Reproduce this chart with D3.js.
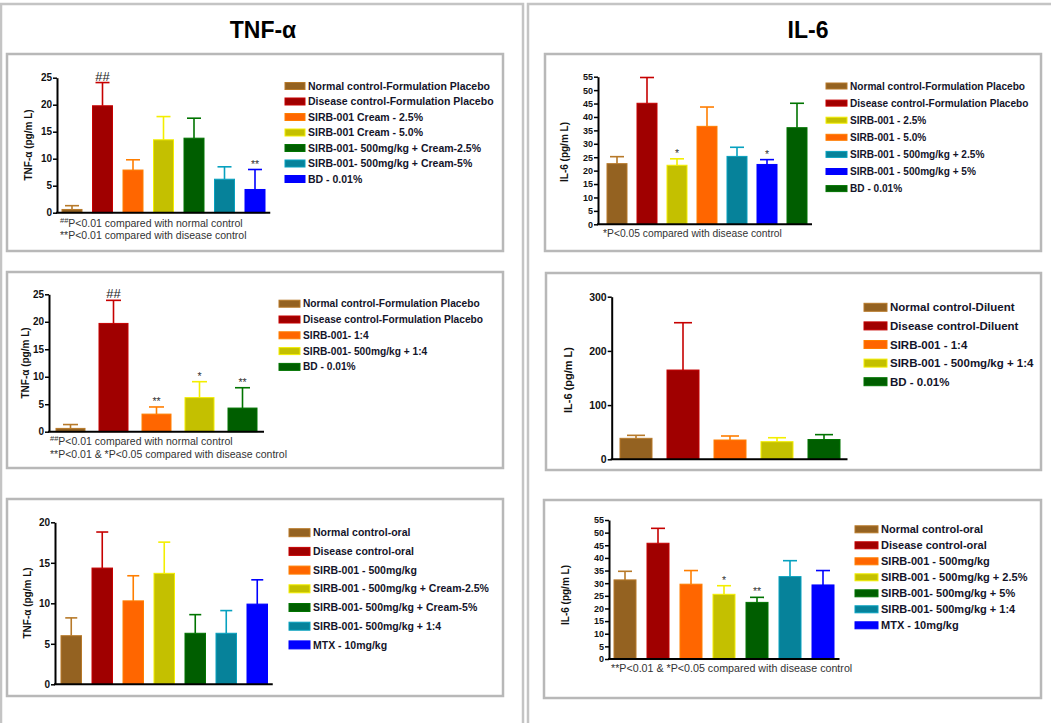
<!DOCTYPE html>
<html lang="en">
<head>
<meta charset="utf-8">
<title>TNF-α / IL-6</title>
<script src="https://cdn.jsdelivr.net/npm/d3@7"></script>
<style>
  body { margin: 0; background: #fff; }
  svg { display: block; font-family: "Liberation Sans", Arial, sans-serif; }
</style>
</head>
<body>
<svg width="1051" height="723"></svg>
<script>
// ---- data ----
var tnf1Groups = ["Normal control-Formulation Placebo", "Disease control-Formulation Placebo", "SIRB-001 Cream - 2.5%",
  "SIRB-001 Cream - 5.0%", "SIRB-001- 500mg/kg + Cream-2.5%", "SIRB-001- 500mg/kg + Cream-5%", "BD - 0.01%"];
var tnf1Means = [0.6, 19.8, 7.9, 13.5, 13.8, 6.2, 4.3];
var tnf1Upper = [1.3, 24.1, 9.8, 17.8, 17.5, 8.5, 8.0];
var tnf1Marks = ["", "##", "", "", "", "", "**"];
var tnf1Ticks = [0, 5, 10, 15, 20, 25];

var tnf2Groups = ["Normal control-Formulation Placebo", "Disease control-Formulation Placebo", "SIRB-001- 1:4",
  "SIRB-001- 500mg/kg + 1:4", "BD - 0.01%"];
var tnf2Means = [0.6, 19.7, 3.2, 6.2, 4.3];
var tnf2Upper = [1.3, 23.9, 4.5, 9.1, 8.0];
var tnf2Marks = ["", "##", "**", "*", "**"];
var tnf2Ticks = [0, 5, 10, 15, 20, 25];

var tnf3Groups = ["Normal control-oral", "Disease control-oral", "SIRB-001 - 500mg/kg", "SIRB-001 - 500mg/kg + Cream-2.5%",
  "SIRB-001- 500mg/kg + Cream-5%", "SIRB-001- 500mg/kg + 1:4", "MTX - 10mg/kg"];
var tnf3Means = [6.0, 14.35, 10.3, 13.7, 6.3, 6.3, 9.9];
var tnf3Upper = [8.2, 18.8, 13.4, 17.55, 8.6, 9.1, 12.9];
var tnf3Marks = ["", "", "", "", "", "", ""];
var tnf3Ticks = [0, 5, 10, 15, 20];

var il1Groups = ["Normal control-Formulation Placebo", "Disease control-Formulation Placebo", "SIRB-001 - 2.5%",
  "SIRB-001 - 5.0%", "SIRB-001 - 500mg/kg + 2.5%", "SIRB-001 - 500mg/kg + 5%", "BD - 0.01%"];
var il1Means = [22.6, 45.1, 22.0, 36.5, 25.3, 22.3, 36.0];
var il1Upper = [25.2, 54.7, 24.4, 43.7, 28.7, 24.1, 45.1];
var il1Marks = ["", "", "*", "", "", "*", ""];
var il1Ticks = [0, 5, 10, 15, 20, 25, 30, 35, 40, 45, 50, 55];

var il2Groups = ["Normal control-Diluent", "Disease control-Diluent", "SIRB-001 - 1:4", "SIRB-001 - 500mg/kg + 1:4", "BD - 0.01%"];
var il2Means = [38.7, 164.7, 35.6, 32.5, 36.5];
var il2Upper = [44.2, 252, 43, 39.8, 45.5];
var il2Marks = ["", "", "", "", ""];
var il2Ticks = [0, 100, 200, 300];

var il3Groups = ["Normal control-oral", "Disease control-oral", "SIRB-001 - 500mg/kg", "SIRB-001 - 500mg/kg + 2.5%",
  "SIRB-001- 500mg/kg + 5%", "SIRB-001- 500mg/kg + 1:4", "MTX - 10mg/kg"];
var il3Means = [31.3, 45.8, 29.6, 25.6, 22.4, 32.6, 29.3];
var il3Upper = [34.7, 51.7, 35.0, 29.0, 24.4, 38.9, 35.0];
var il3Marks = ["", "", "", "*", "**", "", ""];
var il3Ticks = [0, 5, 10, 15, 20, 25, 30, 35, 40, 45, 50, 55];

var palette = { brown: "#946221", red: "#a00000", orange: "#ff6600", olive: "#c4c000",
                green: "#005e00", teal: "#06829a", blue: "#0000ff" };

var svg = d3.select("svg");

// column frames
svg.append("rect").attr("x", 1).attr("y", 4).attr("width", 522).attr("height", 740)
   .attr("fill", "none").attr("stroke", "#c4c4c4").attr("stroke-width", 2.5);
svg.append("rect").attr("x", 528).attr("y", 4).attr("width", 540).attr("height", 740)
   .attr("fill", "none").attr("stroke", "#c4c4c4").attr("stroke-width", 2.5);

svg.append("text").attr("x", 263).attr("y", 38).attr("text-anchor", "middle")
   .attr("font-size", 23).attr("font-weight", "bold").text("TNF-α");
svg.append("text").attr("x", 808).attr("y", 38).attr("text-anchor", "middle")
   .attr("font-size", 23).attr("font-weight", "bold").text("IL-6");

var panels = [
  { groups: tnf1Groups, means: tnf1Means, upper: tnf1Upper, marks: tnf1Marks, ticks: tnf1Ticks,
    colors: ["brown", "red", "orange", "olive", "green", "teal", "blue"],
    box: [7, 54, 496, 197], axisX: 57, y0: 212.7, yTop: 77.7, bandStart: 56.75, step: 30.5, barW: 20, cap: 14, tickSize: 10,
    ylabel: "TNF-α (pg/m L)", labelX: 28, labelY: 145, labelSize: 10,
    leg: { x: 285, y: 86, step: 15.5, w: 20, h: 7, size: 10.5 },
    notes: [["##", "P<0.01 compared with normal control"], ["", "**P<0.01 compared with disease control"]],
    noteX: 60, noteY: 227, noteStep: 12, noteSize: 10.5 },
  { groups: tnf2Groups, means: tnf2Means, upper: tnf2Upper, marks: tnf2Marks, ticks: tnf2Ticks,
    colors: ["brown", "red", "orange", "olive", "green"],
    box: [7, 272, 496, 196], axisX: 49, y0: 431.7, yTop: 294.3, bandStart: 49, step: 43, barW: 29, cap: 15, tickSize: 10,
    ylabel: "TNF-α (pg/m L)", labelX: 25, labelY: 363, labelSize: 10,
    leg: { x: 279, y: 303.7, step: 15.8, w: 21, h: 7, size: 10.2 },
    notes: [["##", "P<0.01 compared with normal control"], ["", "**P<0.01 & *P<0.05 compared with disease control"]],
    noteX: 50, noteY: 445, noteStep: 12.5, noteSize: 10.5 },
  { groups: tnf3Groups, means: tnf3Means, upper: tnf3Upper, marks: tnf3Marks, ticks: tnf3Ticks,
    colors: ["brown", "red", "orange", "olive", "green", "teal", "blue"],
    box: [7, 499, 496, 197], axisX: 55, y0: 684.3, yTop: 522.3, bandStart: 55.75, step: 31, barW: 20.5, cap: 12, tickSize: 10,
    ylabel: "TNF-α (pg/m L)", labelX: 27, labelY: 603, labelSize: 10,
    leg: { x: 289, y: 532.7, step: 18.7, w: 21, h: 8, size: 10.5 },
    notes: [], noteX: 0, noteY: 0, noteStep: 0, noteSize: 10 },
  { groups: il1Groups, means: il1Means, upper: il1Upper, marks: il1Marks, ticks: il1Ticks,
    colors: ["brown", "red", "olive", "orange", "teal", "blue", "green"],
    box: [545, 54, 496, 197], axisX: 598, y0: 224.3, yTop: 76.7, bandStart: 602, step: 30, barW: 20, cap: 14, tickSize: 9,
    ylabel: "IL-6 (pg/m L)", labelX: 564, labelY: 152, labelSize: 10,
    leg: { x: 826, y: 86, step: 17.1, w: 21, h: 6, size: 10.1 },
    notes: [["", "*P<0.05 compared with disease control"]], noteX: 603, noteY: 237, noteStep: 12, noteSize: 10.3 },
  { groups: il2Groups, means: il2Means, upper: il2Upper, marks: il2Marks, ticks: il2Ticks,
    colors: ["brown", "red", "orange", "olive", "green"],
    box: [546, 273, 495, 197], axisX: 611.7, y0: 459.3, yTop: 296.7, bandStart: 612.5, step: 47, barW: 32, cap: 18, tickSize: 10.5,
    ylabel: "IL-6 (pg/m L)", labelX: 568, labelY: 380, labelSize: 11,
    leg: { x: 864, y: 307.3, step: 18.6, w: 23, h: 8, size: 11.5 },
    notes: [], noteX: 0, noteY: 0, noteStep: 0, noteSize: 10 },
  { groups: il3Groups, means: il3Means, upper: il3Upper, marks: il3Marks, ticks: il3Ticks,
    colors: ["brown", "red", "orange", "olive", "green", "teal", "blue"],
    box: [544, 500, 497, 198], axisX: 609, y0: 659, yTop: 520, bandStart: 608.5, step: 33, barW: 22, cap: 14, tickSize: 9,
    ylabel: "IL-6 (pg/m L)", labelX: 565, labelY: 595, labelSize: 10,
    leg: { x: 855, y: 529.3, step: 16, w: 23, h: 7, size: 11 },
    notes: [["", "**P<0.01 & *P<0.05 compared with disease control"]], noteX: 611, noteY: 672, noteStep: 12, noteSize: 10.7 }
];

panels.forEach(drawPanel);

function drawPanel(p) {
  var g = svg.append("g");
  var n = p.groups.length;
  var pad = 1 - p.barW / p.step;
  var cols = p.colors.map(function(k) { return palette[k]; });
  var light = cols.map(function(c) { return d3.color(c).brighter(0.6).formatHex(); });

  g.append("rect")
   .attr("x", p.box[0]).attr("y", p.box[1]).attr("width", p.box[2]).attr("height", p.box[3])
   .attr("fill", "none").attr("stroke", "#b8b8b8").attr("stroke-width", 2.5);

  var y = d3.scaleLinear().domain([0, d3.max(p.ticks)]).range([p.y0, p.yTop]);
  var x = d3.scaleBand().domain(d3.range(n))
            .range([p.bandStart, p.bandStart + p.step * n])
            .paddingInner(pad).paddingOuter(pad / 2);

  // bars
  g.selectAll(".bar").data(p.means).enter().append("rect")
   .attr("x", function(d, i) { return x(i); })
   .attr("y", function(d) { return y(d); })
   .attr("width", x.bandwidth())
   .attr("height", function(d) { return p.y0 - y(d); })
   .attr("fill", function(d, i) { return cols[i]; })
   .attr("stroke", function(d, i) { return light[i]; })
   .attr("stroke-width", 1);

  // error bars (upper only)
  p.means.forEach(function(m, i) {
    var cx = x(i) + x.bandwidth() / 2;
    g.append("line").attr("x1", cx).attr("x2", cx).attr("y1", y(m)).attr("y2", y(p.upper[i]))
     .attr("stroke", light[i]).attr("stroke-width", 1.6);
    g.append("line").attr("x1", cx - p.cap / 2).attr("x2", cx + p.cap / 2)
     .attr("y1", y(p.upper[i])).attr("y2", y(p.upper[i]))
     .attr("stroke", light[i]).attr("stroke-width", 1.6);
    if (p.marks[i]) {
      var hash = p.marks[i].indexOf("#") >= 0;
      g.append("text").attr("x", cx).attr("y", y(p.upper[i]) - 2)
       .attr("text-anchor", "middle").attr("font-size", hash ? 13 : 10.5)
       .attr("fill", hash ? "#222" : "#333").text(p.marks[i]);
    }
  });

  // axes
  var yAxis = g.append("g").attr("transform", "translate(" + p.axisX + ",0)")
    .call(d3.axisLeft(y).tickValues(p.ticks).tickSize(4).tickSizeOuter(0).tickPadding(1));
  yAxis.select(".domain").attr("stroke", "#000").attr("stroke-width", 2);
  yAxis.selectAll(".tick line").attr("stroke", "#000").attr("stroke-width", 1.5);
  yAxis.selectAll(".tick text").attr("font-size", p.tickSize).attr("font-weight", "bold")
       .attr("font-family", "Liberation Sans, Arial, sans-serif").attr("fill", "#111");

  g.append("line").attr("x1", p.axisX - 1).attr("x2", x.range()[1])
   .attr("y1", p.y0).attr("y2", p.y0).attr("stroke", "#000").attr("stroke-width", 2);

  g.append("text")
   .attr("transform", "translate(" + p.labelX + "," + p.labelY + ") rotate(-90)")
   .attr("text-anchor", "middle").attr("dy", "0.35em")
   .attr("font-size", p.labelSize).attr("font-weight", "bold").attr("fill", "#111")
   .text(p.ylabel);

  // legend
  var leg = g.append("g");
  p.groups.forEach(function(name, i) {
    var ly = p.leg.y + i * p.leg.step;
    leg.append("rect").attr("x", p.leg.x).attr("y", ly - p.leg.h / 2)
       .attr("width", p.leg.w).attr("height", p.leg.h)
       .attr("fill", cols[i]).attr("stroke", light[i]).attr("stroke-width", 1);
    leg.append("text").attr("x", p.leg.x + p.leg.w + 3).attr("y", ly).attr("dy", "0.35em")
       .attr("font-size", p.leg.size).attr("font-weight", "bold").attr("fill", "#14142a")
       .text(name);
  });

  // footnotes
  p.notes.forEach(function(nt, i) {
    var t = g.append("text").attr("x", p.noteX).attr("y", p.noteY + i * p.noteStep)
             .attr("font-size", p.noteSize).attr("fill", "#333");
    if (nt[0]) {
      t.append("tspan").attr("font-size", 7.5).attr("dy", -4).text(nt[0]);
      t.append("tspan").attr("dy", 4).text(nt[1]);
    } else {
      t.text(nt[1]);
    }
  });
}
</script>
</body>
</html>
